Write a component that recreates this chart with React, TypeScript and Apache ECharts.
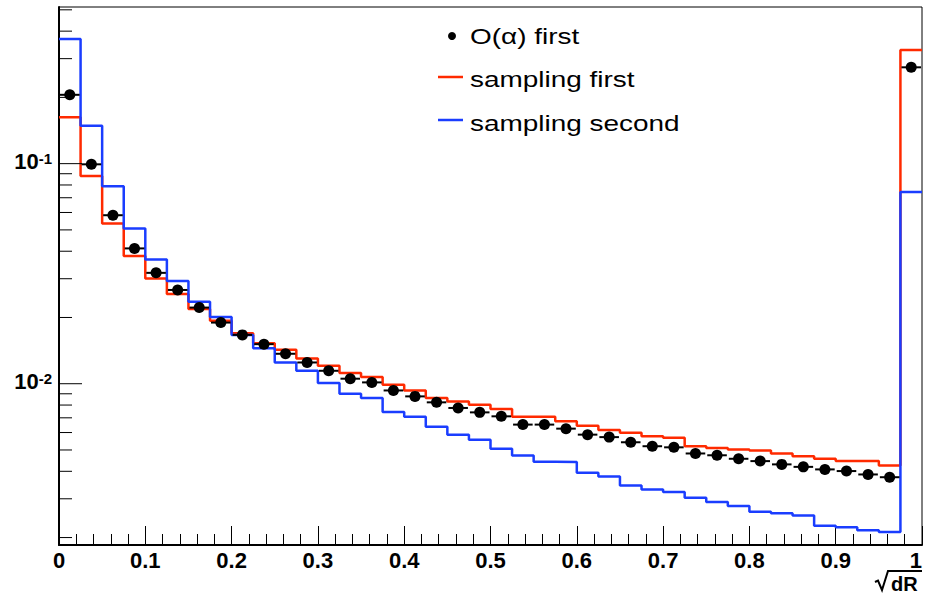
import React, { useEffect, useRef } from "react";
import * as echarts from "echarts";

// Histogram binning: 40 bins of width 0.025 on [0, 1]
const BIN_LOW = 0;
const BIN_WIDTH = 0.025;

// O(alpha) first (black points)
const alphaFirst = [
  0.2055, 0.0993, 0.0583, 0.0412, 0.0319, 0.02667, 0.02218, 0.01896, 0.01667, 0.01513,
  0.01368, 0.01249, 0.01145, 0.01054, 0.01014, 0.00932, 0.00876, 0.00823, 0.00776, 0.00741,
  0.00711, 0.00652, 0.00652, 0.00625, 0.00587, 0.00572, 0.00542, 0.0052, 0.00514, 0.00482,
  0.00473, 0.00456, 0.00445, 0.0043, 0.00419, 0.00408, 0.00401, 0.00387, 0.00376, 0.274,
];

// sampling first (red histogram)
const samplingFirst = [
  0.1626, 0.0879, 0.0535, 0.0381, 0.0301, 0.02558, 0.02187, 0.01935, 0.01697, 0.01528,
  0.01426, 0.01301, 0.01207, 0.01118, 0.01072, 0.0099, 0.00932, 0.00861, 0.00831, 0.00803,
  0.00768, 0.00707, 0.00707, 0.00675, 0.00645, 0.00617, 0.00598, 0.00577, 0.00568, 0.0052,
  0.00511, 0.00502, 0.00497, 0.00482, 0.00468, 0.00456, 0.00445, 0.00445, 0.00425, 0.3284,
];

// sampling second (blue histogram)
const samplingSecond = [
  0.3684, 0.1487, 0.0789, 0.0508, 0.0367, 0.02929, 0.0236, 0.02011, 0.01667, 0.01451,
  0.01249, 0.01145, 0.01007, 0.00901, 0.00861, 0.00744, 0.00707, 0.00637, 0.00587, 0.00557,
  0.00506, 0.00472, 0.00442, 0.00441, 0.00394, 0.00379, 0.00345, 0.00331, 0.00322, 0.00303,
  0.0029, 0.00278, 0.00262, 0.00258, 0.00252, 0.00226, 0.00223, 0.00216, 0.00212, 0.0744,
];

// Axis ranges and ticks
const X_MIN = 0;
const X_MAX = 1;
const X_INTERVAL = 0.1;
const Y_MIN = 0.00185;
const Y_MAX = 0.515;
const Y_MAJOR_TICKS = [0.01, 0.1];
const Y_MINOR_TICKS = [
  0.002, 0.003, 0.004, 0.005, 0.006, 0.007, 0.008, 0.009,
  0.02, 0.03, 0.04, 0.05, 0.06, 0.07, 0.08, 0.09,
  0.2, 0.3, 0.4, 0.5,
];

const LEGEND_LABELS = ["O(\u03b1) first", "sampling first", "sampling second"];
const X_TITLE = "dR";

const RED = "#ff2a00";
const BLUE = "#1a3dff";
const FONT = "'Liberation Sans', Arial, Helvetica, sans-serif";

function histData(vals: number[]) {
  const d: number[][] = vals.map((v, i) => [BIN_LOW + i * BIN_WIDTH, v]);
  d.push([BIN_LOW + vals.length * BIN_WIDTH, vals[vals.length - 1]]);
  return d;
}

function tickSeries(values: number[], len: number) {
  return {
    type: "custom",
    silent: true,
    clip: false,
    data: values.map((v) => [X_MIN, v]),
    encode: { x: 0, y: 1 },
    renderItem: (_params: any, api: any) => {
      const p = api.coord([X_MIN, api.value(1)]);
      return {
        type: "line",
        shape: { x1: p[0], y1: p[1], x2: p[0] + len, y2: p[1] },
        style: { stroke: "#000", lineWidth: 1 },
      };
    },
    z: 5,
  };
}

function legendText(text: string, y: number) {
  return {
    type: "text",
    x: 470,
    y,
    scaleX: 1.27,
    style: { text, fontFamily: FONT, fontSize: 22, fill: "#000", verticalAlign: "middle" },
    z: 10,
  };
}

export default function App() {
  const ref = useRef<HTMLDivElement>(null);
  useEffect(() => {
    if (!ref.current) return;
    const chart = echarts.init(ref.current, null, { renderer: "svg" });
    const centers = alphaFirst.map((v, i) => [BIN_LOW + (i + 0.5) * BIN_WIDTH, v]);
    chart.setOption({
      animation: false,
      backgroundColor: "#fff",
      grid: {
        left: 59,
        right: 4,
        top: 7,
        bottom: 59,
        show: true,
        borderColor: "#000",
        borderWidth: 1,
        containLabel: false,
        outerBoundsMode: "none",
      },
      xAxis: {
        type: "value",
        min: X_MIN,
        max: X_MAX,
        interval: X_INTERVAL,
        splitLine: { show: false },
        axisLine: { show: true, lineStyle: { color: "#000", width: 2 } },
        axisTick: { show: true, inside: true, length: 19, lineStyle: { color: "#000", width: 1 } },
        minorTick: { show: true, splitNumber: 5, length: 11, lineStyle: { color: "#000", width: 1 } },
        axisLabel: {
          margin: 7,
          color: "#000",
          fontFamily: FONT,
          fontWeight: "bold",
          fontSize: 22,
          lineHeight: 17,
          alignMaxLabel: "right",
          formatter: (v: number) => String(Number(v.toFixed(2))),
        },
      },
      yAxis: {
        type: "log",
        logBase: 10,
        min: Y_MIN,
        max: Y_MAX,
        splitLine: { show: false },
        axisLine: { show: true, lineStyle: { color: "#000", width: 2 } },
        axisTick: { show: false },
        axisLabel: {
          margin: 7,
          color: "#000",
          padding: [0, 0, 4, 0],
          formatter: (v: number) => {
            const lg = Math.log10(v);
            if (Math.abs(lg - Math.round(lg)) > 1e-6) return "";
            return `{b|10}{s|${Math.round(lg)}}`;
          },
          rich: {
            b: { fontFamily: FONT, fontWeight: "bold", fontSize: 22, lineHeight: 22, color: "#000" },
            s: {
              fontFamily: FONT,
              fontWeight: "bold",
              fontSize: 15,
              lineHeight: 15,
              color: "#000",
              verticalAlign: "top",
            },
          },
        },
      },
      series: [
        tickSeries(Y_MAJOR_TICKS, 23),
        tickSeries(Y_MINOR_TICKS, 13),
        {
          name: LEGEND_LABELS[1],
          type: "line",
          step: "end",
          data: histData(samplingFirst),
          showSymbol: false,
          symbol: "none",
          lineStyle: { color: RED, width: 2.5 },
          itemStyle: { color: RED },
          z: 2,
        },
        {
          name: LEGEND_LABELS[2],
          type: "line",
          step: "end",
          data: histData(samplingSecond),
          showSymbol: false,
          symbol: "none",
          lineStyle: { color: BLUE, width: 2.5 },
          itemStyle: { color: BLUE },
          z: 3,
        },
        {
          name: LEGEND_LABELS[0] + " errors",
          type: "custom",
          silent: true,
          data: centers,
          encode: { x: 0, y: 1 },
          renderItem: (_params: any, api: any) => {
            const x = api.value(0);
            const y = api.value(1);
            const p1 = api.coord([x - BIN_WIDTH / 2, y]);
            const p2 = api.coord([x + BIN_WIDTH / 2, y]);
            return {
              type: "line",
              shape: { x1: p1[0] + 1, y1: p1[1], x2: p2[0] - 1, y2: p2[1] },
              style: { stroke: "#000", lineWidth: 2 },
            };
          },
          z: 4,
        },
        {
          name: LEGEND_LABELS[0],
          type: "scatter",
          data: centers,
          symbol: "circle",
          symbolSize: 11,
          itemStyle: { color: "#000", opacity: 1 },
          z: 5,
        },
      ],
      graphic: [
        { type: "circle", shape: { cx: 452, cy: 36, r: 4 }, style: { fill: "#000" }, z: 10 },
        legendText(LEGEND_LABELS[0], 36),
        { type: "line", shape: { x1: 438, y1: 77, x2: 463, y2: 77 }, style: { stroke: RED, lineWidth: 2.5 }, z: 10 },
        legendText(LEGEND_LABELS[1], 79.5),
        { type: "line", shape: { x1: 438, y1: 120, x2: 463, y2: 120 }, style: { stroke: BLUE, lineWidth: 2.5 }, z: 10 },
        legendText(LEGEND_LABELS[2], 123),
        {
          type: "polyline",
          shape: { points: [[875, 582], [878, 580.5], [882, 590], [888, 571], [922, 571]] },
          style: { stroke: "#000", lineWidth: 2, fill: null },
          z: 10,
        },
        {
          type: "text",
          x: 891,
          y: 584,
          style: { text: X_TITLE, fontFamily: FONT, fontWeight: "bold", fontSize: 20, lineHeight: 20, fill: "#000", verticalAlign: "middle" },
          z: 10,
        },
      ],
    });
    return () => chart.dispose();
  }, []);
  return <div ref={ref} style={{ position: "absolute", left: 0, top: 0, width: 926, height: 604 }} />;
}
